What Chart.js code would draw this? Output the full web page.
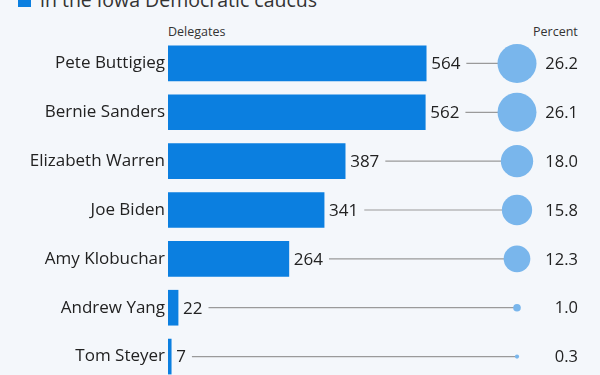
<!DOCTYPE html>
<html>
<head>
<meta charset="utf-8">
<script src="https://cdn.jsdelivr.net/npm/chart.js@4/dist/chart.umd.min.js"></script>
<style>
  html, body { margin: 0; padding: 0; background: #f4f7fb; overflow: hidden; }
  body { width: 600px; height: 375px; position: relative; font-family: "Open Sans", sans-serif; }
  #sq { position: absolute; left: 18px; top: -6px; width: 13px; height: 13px; background: #0b7fe0; }
  #title { position: absolute; left: 40px; top: -10px; font-size: 19.5px; line-height: 20px; color: #333; white-space: nowrap; }
  .head { position: absolute; top: 23px; font-size: 12.5px; color: #333; }
  #wrap { position: absolute; left: 0; top: 0; width: 600px; height: 400px; }
</style>
</head>
<body>
<div id="sq"></div>
<div id="title">in the Iowa Democratic caucus</div>
<div class="head" style="left:168px">Delegates</div>
<div class="head" style="left:533px">Percent</div>
<div id="wrap"><canvas id="chart" width="600" height="400"></canvas></div>
<script>
// candidates, delegates (SDE) and percent share
const candidates = ['Pete Buttigieg', 'Bernie Sanders', 'Elizabeth Warren', 'Joe Biden', 'Amy Klobuchar', 'Andrew Yang', 'Tom Steyer'];
const delegates = [564, 562, 387, 341, 264, 22, 7];
const percent = [26.2, 26.1, 18.0, 15.8, 12.3, 1.0, 0.3];

const barBlue = '#0b7fe0';
const bubbleBlue = '#79b6ec';

// draws value labels, connector lines, bubbles and percent labels
const extras = {
  id: 'extras',
  afterDatasetsDraw(chart) {
    const ctx = chart.ctx;
    const xs = chart.scales.x;
    const ys = chart.scales.y;
    const cx = 517;
    const maxP = Math.max(...percent);
    ctx.save();
    ctx.textBaseline = 'middle';
    delegates.forEach((v, i) => {
      const y = ys.getPixelForValue(i);
      const x = xs.getPixelForValue(v);
      ctx.font = '17px "Open Sans"';
      ctx.fillStyle = '#222';
      ctx.textAlign = 'left';
      const label = String(v);
      ctx.fillText(label, x + 5, y + 1);
      const w = ctx.measureText(label).width;
      const r = 19.5 * Math.sqrt(percent[i] / maxP);
      // connector
      ctx.strokeStyle = '#9a9a9a';
      ctx.lineWidth = 1.2;
      ctx.beginPath();
      ctx.moveTo(x + 5 + w + 6, y);
      ctx.lineTo(cx, y);
      ctx.stroke();
      // bubble
      ctx.fillStyle = bubbleBlue;
      ctx.beginPath();
      ctx.arc(cx, y, Math.max(r, 1.5), 0, Math.PI * 2);
      ctx.fill();
      // percent
      ctx.font = '16.5px "Open Sans"';
      ctx.fillStyle = '#222';
      ctx.textAlign = 'right';
      ctx.fillText(percent[i].toFixed(1), 578, y + 1);
    });
    ctx.restore();
  }
};

new Chart(document.getElementById('chart'), {
  type: 'bar',
  data: {
    labels: candidates,
    datasets: [{
      label: 'Delegates',
      data: delegates,
      backgroundColor: barBlue,
      barThickness: 35
    }]
  },
  options: {
    indexAxis: 'y',
    responsive: false,
    animation: false,
    devicePixelRatio: 1,
    layout: { padding: { top: 39, bottom: 19, left: 0, right: 20 } },
    plugins: { legend: { display: false }, tooltip: { enabled: false } },
    scales: {
      x: { min: 0, max: 900, display: false },
      y: {
        grid: { display: false, drawTicks: false },
        border: { display: false },
        afterFit(s) { s.width = 168; },
        ticks: { color: '#222', font: { family: 'Open Sans', size: 17 }, padding: 3 }
      }
    }
  },
  plugins: [extras]
});
</script>
</body>
</html>
